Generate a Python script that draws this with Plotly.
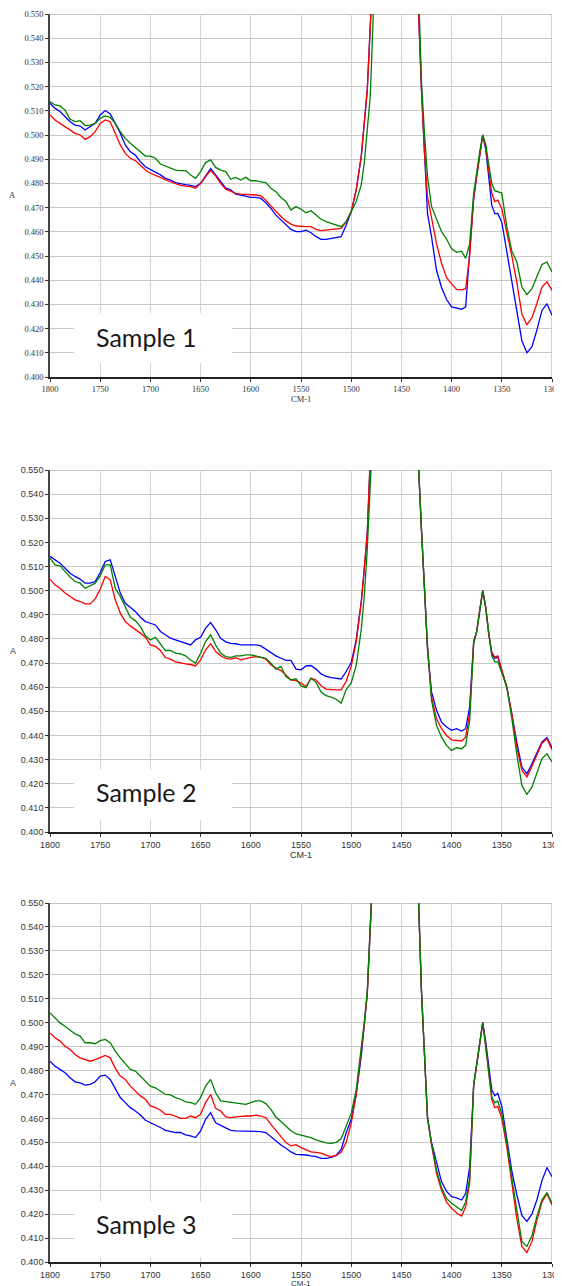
import plotly.graph_objects as go

# Wavenumber grid (cm-1), shared by all spectra
WN = [1800, 1795, 1790, 1785, 1780, 1775, 1770, 1765, 1760, 1755, 1750, 1745, 1740, 1735, 1730,
      1725, 1720, 1715, 1710, 1705, 1700, 1695, 1690, 1685, 1680, 1675, 1670, 1665, 1660, 1655,
      1650, 1645, 1640, 1635, 1630, 1625, 1620, 1615, 1610, 1605, 1600, 1595, 1590, 1585, 1580,
      1575, 1570, 1565, 1560, 1555, 1550, 1545, 1540, 1535, 1530, 1525, 1520, 1515, 1510, 1505,
      1500, 1495, 1490, 1487, 1484, 1481, 1478, 1470, 1458, 1445, 1436, 1433, 1430, 1427, 1424,
      1420, 1415, 1410, 1405, 1400, 1395, 1390, 1386, 1382, 1378, 1375, 1372, 1369, 1366, 1363,
      1360, 1357, 1354, 1350, 1345, 1340, 1335, 1330, 1325, 1320, 1315, 1310, 1305, 1300]

S1_BLUE = [0.5131, 0.5110, 0.5097, 0.5076, 0.5055, 0.5041, 0.5037, 0.5021, 0.5035, 0.5048, 0.5083, 0.5101, 0.5087, 0.5048, 0.5007,
           0.4959, 0.4931, 0.4917, 0.4890, 0.4869, 0.4858, 0.4849, 0.4835, 0.4821, 0.4814, 0.4803, 0.4798, 0.4795, 0.4792, 0.4787,
           0.4800, 0.4831, 0.4861, 0.4835, 0.4807, 0.4780, 0.4773, 0.4756, 0.4752, 0.4748, 0.4742, 0.4742, 0.4738, 0.4720, 0.4697,
           0.4669, 0.4649, 0.4628, 0.4610, 0.4601, 0.4601, 0.4607, 0.4596, 0.4580, 0.4569, 0.4569, 0.4573, 0.4577, 0.4580, 0.4628,
           0.4683, 0.4773, 0.4911, 0.5048, 0.5186, 0.545, 0.585, 0.68, 0.75, 0.72, 0.585, 0.552, 0.5186, 0.4911, 0.4676,
           0.4580, 0.4440, 0.4370, 0.4320, 0.4290, 0.4285, 0.4280, 0.4290, 0.4500, 0.4740, 0.4830, 0.4920, 0.5000, 0.4940, 0.4830,
           0.4710, 0.4675, 0.4676, 0.4640, 0.4520, 0.4400, 0.4280, 0.4150, 0.4100, 0.4125, 0.4195, 0.4275, 0.4303, 0.4255]
S1_RED = [0.5083, 0.5062, 0.5048, 0.5035, 0.5021, 0.5007, 0.5000, 0.4982, 0.4993, 0.5014, 0.5048, 0.5062, 0.5055, 0.5007, 0.4959,
          0.4924, 0.4904, 0.4894, 0.4876, 0.4855, 0.4842, 0.4835, 0.4825, 0.4814, 0.4807, 0.4798, 0.4792, 0.4789, 0.4787, 0.4780,
          0.4800, 0.4828, 0.4853, 0.4831, 0.4800, 0.4776, 0.4766, 0.4759, 0.4756, 0.4755, 0.4752, 0.4752, 0.4748, 0.4731, 0.4707,
          0.4683, 0.4663, 0.4645, 0.4632, 0.4624, 0.4621, 0.4621, 0.4621, 0.4610, 0.4605, 0.4607, 0.4607, 0.4610, 0.4614, 0.4642,
          0.4683, 0.4773, 0.4911, 0.5048, 0.5186, 0.545, 0.585, 0.68, 0.75, 0.72, 0.585, 0.552, 0.5186, 0.4924, 0.4745,
          0.4660, 0.4550, 0.4470, 0.4410, 0.4385, 0.4362, 0.4360, 0.4365, 0.4500, 0.4740, 0.4830, 0.4920, 0.5000, 0.4950, 0.4860,
          0.4760, 0.4725, 0.4731, 0.4695, 0.4600, 0.4500, 0.4390, 0.4260, 0.4215, 0.4245, 0.4305, 0.4372, 0.4393, 0.4358]
S1_GREEN = [0.5138, 0.5124, 0.5120, 0.5103, 0.5065, 0.5055, 0.5059, 0.5039, 0.5041, 0.5048, 0.5069, 0.5079, 0.5073, 0.5048, 0.5014,
            0.4986, 0.4966, 0.4949, 0.4931, 0.4913, 0.4913, 0.4904, 0.4880, 0.4872, 0.4862, 0.4855, 0.4853, 0.4853, 0.4835, 0.4821,
            0.4849, 0.4886, 0.4897, 0.4866, 0.4855, 0.4849, 0.4817, 0.4825, 0.4814, 0.4825, 0.4811, 0.4811, 0.4806, 0.4803, 0.4780,
            0.4766, 0.4742, 0.4725, 0.4690, 0.4704, 0.4693, 0.4679, 0.4687, 0.4669, 0.4652, 0.4642, 0.4635, 0.4628, 0.4621, 0.4642,
            0.4683, 0.4725, 0.4794, 0.4883, 0.5021, 0.5160, 0.5500, 0.66, 0.75, 0.72, 0.600, 0.556, 0.5220, 0.5007, 0.4828,
            0.4705, 0.4650, 0.4600, 0.4570, 0.4530, 0.4515, 0.4520, 0.4490, 0.4550, 0.4760, 0.4850, 0.4930, 0.5000, 0.4960, 0.4880,
            0.4800, 0.4770, 0.4765, 0.4760, 0.4620, 0.4520, 0.4475, 0.4372, 0.4340, 0.4365, 0.4415, 0.4465, 0.4475, 0.4434]

S2_BLUE = [0.5142, 0.5128, 0.5114, 0.5093, 0.5072, 0.5059, 0.5048, 0.5031, 0.5031, 0.5038, 0.5075, 0.5121, 0.5128, 0.5059, 0.4990,
           0.4948, 0.4932, 0.4914, 0.4890, 0.4872, 0.4865, 0.4858, 0.4831, 0.4817, 0.4803, 0.4796, 0.4789, 0.4782, 0.4775, 0.4796,
           0.4807, 0.4845, 0.4868, 0.4838, 0.4803, 0.4788, 0.4782, 0.4780, 0.4775, 0.4775, 0.4775, 0.4775, 0.4771, 0.4757, 0.4741,
           0.4730, 0.4720, 0.4711, 0.4711, 0.4675, 0.4672, 0.4688, 0.4690, 0.4675, 0.4655, 0.4645, 0.4640, 0.4638, 0.4634, 0.4665,
           0.4702, 0.4796, 0.4955, 0.5086, 0.5238, 0.555, 0.60, 0.68, 0.75, 0.72, 0.585, 0.552, 0.5252, 0.5003, 0.4755,
           0.4580, 0.4504, 0.4455, 0.4435, 0.4421, 0.4428, 0.4418, 0.4428, 0.4518, 0.4790, 0.4830, 0.4920, 0.5000, 0.4930, 0.4820,
           0.4740, 0.4720, 0.4725, 0.4670, 0.4600, 0.4490, 0.4370, 0.4269, 0.4241, 0.4283, 0.4331, 0.4373, 0.4391, 0.4349]
S2_RED = [0.5048, 0.5024, 0.5010, 0.4990, 0.4976, 0.4962, 0.4955, 0.4945, 0.4945, 0.4966, 0.5006, 0.5059, 0.5045, 0.4962, 0.4907,
          0.4872, 0.4854, 0.4840, 0.4824, 0.4807, 0.4775, 0.4769, 0.4752, 0.4723, 0.4716, 0.4705, 0.4700, 0.4697, 0.4694, 0.4688,
          0.4713, 0.4755, 0.4780, 0.4748, 0.4730, 0.4719, 0.4716, 0.4722, 0.4713, 0.4719, 0.4724, 0.4727, 0.4724, 0.4716, 0.4693,
          0.4679, 0.4669, 0.4651, 0.4630, 0.4627, 0.4617, 0.4603, 0.4637, 0.4630, 0.4606, 0.4592, 0.4589, 0.4589, 0.4589, 0.4624,
          0.4686, 0.4789, 0.4948, 0.5086, 0.5238, 0.555, 0.60, 0.68, 0.75, 0.72, 0.585, 0.552, 0.5252, 0.5003, 0.4769,
          0.4559, 0.4469, 0.4428, 0.4400, 0.4382, 0.4380, 0.4377, 0.4393, 0.4490, 0.4790, 0.4830, 0.4920, 0.5000, 0.4930, 0.4820,
          0.4745, 0.4725, 0.4730, 0.4670, 0.4600, 0.4490, 0.4350, 0.4255, 0.4228, 0.4272, 0.4324, 0.4368, 0.4386, 0.4341]
S2_GREEN = [0.5135, 0.5107, 0.5103, 0.5079, 0.5056, 0.5038, 0.5031, 0.5010, 0.5020, 0.5031, 0.5061, 0.5107, 0.5107, 0.5010, 0.4976,
            0.4934, 0.4890, 0.4876, 0.4851, 0.4813, 0.4796, 0.4807, 0.4780, 0.4752, 0.4752, 0.4741, 0.4738, 0.4730, 0.4713, 0.4700,
            0.4741, 0.4789, 0.4817, 0.4775, 0.4741, 0.4727, 0.4724, 0.4730, 0.4730, 0.4734, 0.4734, 0.4730, 0.4724, 0.4720, 0.4700,
            0.4675, 0.4686, 0.4644, 0.4630, 0.4635, 0.4605, 0.4598, 0.4637, 0.4620, 0.4580, 0.4565, 0.4559, 0.4550, 0.4534, 0.4590,
            0.4618, 0.4690, 0.4838, 0.4976, 0.5169, 0.548, 0.59, 0.68, 0.75, 0.72, 0.585, 0.552, 0.5252, 0.5010, 0.4769,
            0.4545, 0.4442, 0.4393, 0.4359, 0.4338, 0.4349, 0.4345, 0.4359, 0.4462, 0.4780, 0.4830, 0.4920, 0.5000, 0.4930, 0.4820,
            0.4730, 0.4705, 0.4705, 0.4660, 0.4600, 0.4470, 0.4320, 0.4193, 0.4156, 0.4186, 0.4241, 0.4304, 0.4324, 0.4290]

S3_BLUE = [0.4839, 0.4818, 0.4805, 0.4791, 0.4770, 0.4753, 0.4748, 0.4739, 0.4742, 0.4753, 0.4777, 0.4781, 0.4763, 0.4728, 0.4687,
           0.4666, 0.4645, 0.4631, 0.4614, 0.4592, 0.4582, 0.4575, 0.4562, 0.4550, 0.4545, 0.4541, 0.4541, 0.4531, 0.4527, 0.4520,
           0.4548, 0.4596, 0.4624, 0.4582, 0.4571, 0.4562, 0.4550, 0.4548, 0.4548, 0.4548, 0.4548, 0.4548, 0.4545, 0.4541, 0.4523,
           0.4503, 0.4489, 0.4475, 0.4460, 0.4450, 0.4450, 0.4447, 0.4443, 0.4440, 0.4433, 0.4433, 0.4437, 0.4445, 0.4470, 0.4540,
           0.4595, 0.4700, 0.4860, 0.4990, 0.5120, 0.5400, 0.5900, 0.68, 0.75, 0.72, 0.585, 0.552, 0.5131, 0.4853, 0.4603,
           0.4500, 0.4420, 0.4335, 0.4295, 0.4273, 0.4268, 0.4259, 0.4286, 0.4398, 0.4740, 0.4820, 0.4910, 0.5000, 0.4920, 0.4820,
           0.4720, 0.4695, 0.4705, 0.4650, 0.4510, 0.4380, 0.4280, 0.4195, 0.4170, 0.4200, 0.4260, 0.4340, 0.4395, 0.4356]
S3_RED = [0.4957, 0.4937, 0.4923, 0.4902, 0.4888, 0.4867, 0.4853, 0.4846, 0.4839, 0.4846, 0.4856, 0.4863, 0.4853, 0.4809, 0.4777,
          0.4763, 0.4735, 0.4714, 0.4694, 0.4680, 0.4652, 0.4645, 0.4634, 0.4617, 0.4617, 0.4609, 0.4600, 0.4600, 0.4610, 0.4603,
          0.4617, 0.4666, 0.4700, 0.4642, 0.4631, 0.4606, 0.4603, 0.4606, 0.4609, 0.4610, 0.4610, 0.4614, 0.4610, 0.4603, 0.4575,
          0.4550, 0.4527, 0.4499, 0.4485, 0.4490, 0.4478, 0.4470, 0.4460, 0.4458, 0.4455, 0.4447, 0.4440, 0.4445, 0.4458, 0.4500,
          0.4579, 0.4700, 0.4870, 0.4990, 0.5120, 0.5400, 0.5900, 0.68, 0.75, 0.72, 0.585, 0.552, 0.5131, 0.4853, 0.4603,
          0.4490, 0.4370, 0.4300, 0.4250, 0.4225, 0.4205, 0.4192, 0.4231, 0.4330, 0.4740, 0.4820, 0.4910, 0.5000, 0.4900, 0.4790,
          0.4680, 0.4645, 0.4650, 0.4600, 0.4480, 0.4330, 0.4180, 0.4065, 0.4040, 0.4085, 0.4175, 0.4250, 0.4285, 0.4238]
S3_GREEN = [0.5041, 0.5020, 0.4999, 0.4985, 0.4967, 0.4953, 0.4944, 0.4916, 0.4916, 0.4912, 0.4925, 0.4930, 0.4916, 0.4881, 0.4853,
            0.4828, 0.4805, 0.4798, 0.4777, 0.4759, 0.4735, 0.4728, 0.4714, 0.4700, 0.4698, 0.4687, 0.4680, 0.4669, 0.4666, 0.4659,
            0.4687, 0.4735, 0.4763, 0.4707, 0.4673, 0.4670, 0.4669, 0.4664, 0.4662, 0.4659, 0.4666, 0.4673, 0.4673, 0.4662, 0.4638,
            0.4606, 0.4587, 0.4568, 0.4548, 0.4535, 0.4530, 0.4525, 0.4520, 0.4510, 0.4503, 0.4498, 0.4496, 0.4500, 0.4515, 0.4565,
            0.4621, 0.4720, 0.4880, 0.5000, 0.5130, 0.5400, 0.5900, 0.68, 0.75, 0.72, 0.585, 0.552, 0.5131, 0.4853, 0.4603,
            0.4495, 0.4385, 0.4310, 0.4265, 0.4245, 0.4228, 0.4215, 0.4250, 0.4350, 0.4740, 0.4820, 0.4910, 0.5000, 0.4900, 0.4800,
            0.4690, 0.4665, 0.4673, 0.4620, 0.4500, 0.4350, 0.4210, 0.4085, 0.4065, 0.4110, 0.4190, 0.4260, 0.4290, 0.4245]

PANEL_LABELS = ["Sample 1", "Sample 2", "Sample 3"]
Y_TICKS = [0.40, 0.41, 0.42, 0.43, 0.44, 0.45, 0.46, 0.47, 0.48, 0.49, 0.50, 0.51, 0.52, 0.53, 0.54, 0.55]
X_TICKS = [1800, 1750, 1700, 1650, 1600, 1550, 1500, 1450, 1400, 1350, 1300]
X_TITLE = "CM-1"
Y_TITLE = "A"

PANELS = [
    (S1_BLUE, S1_RED, S1_GREEN),
    (S2_BLUE, S2_RED, S2_GREEN),
    (S3_BLUE, S3_RED, S3_GREEN),
]
COLORS = ["#0000ff", "#ff0000", "#008000"]
NAMES = ["Blue", "Red", "Green"]

# The page body has an 8px margin: the figure is drawn 8px in from the window's corner,
# so all window-pixel positions below are shifted by OFF.
OFF = 8
W = 562.0
H = 1286.0
# pixel layout (window coordinates) of each panel: (top, bottom)
PANEL_PX = [(14, 377), (470, 832), (903, 1262)]
X_LEFT, X_RIGHT = 50, 552


def px(xw):
    return (xw - OFF) / W


def py(yw):
    return 1 - (yw - OFF) / H


fig = go.Figure()
layout = dict(
    width=int(W), height=int(H),
    margin=dict(l=0, r=0, t=0, b=0, autoexpand=False),
    paper_bgcolor="white", plot_bgcolor="white",
    showlegend=False,
)
shapes = []
annotations = []

for i, series in enumerate(PANELS):
    idx = "" if i == 0 else str(i + 1)
    xa, ya = "x" + idx, "y" + idx
    for s, c, n in zip(series, COLORS, NAMES):
        fig.add_trace(go.Scatter(x=WN, y=s, mode="lines", name=n,
                                 line=dict(color=c, width=1.3),
                                 xaxis=xa, yaxis=ya, hoverinfo="skip"))
    top, bot = PANEL_PX[i]
    serif = (i == 0)
    tfont = dict(family="Liberation Serif" if serif else "Liberation Sans, Arial",
                 size=8.5 if serif else 9, color="#333333")
    layout["xaxis" + idx] = dict(
        domain=[px(X_LEFT), px(X_RIGHT)], anchor=ya, range=[1800, 1300],
        tickmode="array", tickvals=X_TICKS, ticktext=[str(t) for t in X_TICKS],
        showgrid=True, gridcolor="#d4d4d4", gridwidth=1.3,
        showline=True, linecolor="#222222", linewidth=1.6,
        ticks="outside", ticklen=3, tickcolor="#333333", tickfont=tfont,
        zeroline=False, fixedrange=True, automargin=False,
    )
    layout["yaxis" + idx] = dict(
        domain=[py(bot), py(top)], anchor=xa, range=[0.400, 0.550],
        tickmode="array", tickvals=Y_TICKS, ticktext=["%.3f" % t for t in Y_TICKS],
        showgrid=True, gridcolor="#c8c8c8", gridwidth=1.2,
        showline=True, linecolor="#444444", linewidth=1.6,
        ticks="outside", ticklen=3, tickcolor="#333333", tickfont=tfont,
        zeroline=False, fixedrange=True, automargin=False,
    )
    # top and right frame lines (gray, like gridlines)
    shapes.append(dict(type="line", xref=xa, yref=ya, x0=1800, x1=1300, y0=0.55, y1=0.55,
                       line=dict(color="#c4c4c4", width=2), layer="below"))
    shapes.append(dict(type="line", xref=xa, yref=ya, x0=1300, x1=1300, y0=0.40, y1=0.55,
                       line=dict(color="#c4c4c4", width=1.5), layer="below"))
    # white label box
    box_top = [313, 770, 1202][i]
    box_bot = [363, 820, 1257][i]
    shapes.append(dict(type="rect", xref="paper", yref="paper",
                       x0=px(74), x1=px(232), y0=py(box_bot), y1=py(box_top),
                       fillcolor="white", line=dict(width=0), layer="above"))
    text_y = [337, 792, 1224][i]
    annotations.append(dict(text=PANEL_LABELS[i], xref="paper", yref="paper",
                            x=px(146), y=py(text_y), showarrow=False,
                            xanchor="center", yanchor="middle",
                            font=dict(family="Lato, Open Sans, sans-serif", size=25, color="#1a1a1a")))
    # axis titles
    annotations.append(dict(text=Y_TITLE, xref="paper", yref="paper",
                            x=px(12.5), y=py((top + bot) / 2), showarrow=False,
                            xanchor="center", yanchor="middle", font=tfont))
    title_y = [399, 855, 1283][i]
    tf2 = dict(tfont)
    if i == 2:
        tf2["size"] = 8
    annotations.append(dict(text=X_TITLE, xref="paper", yref="paper",
                            x=px((X_LEFT + X_RIGHT) / 2), y=py(title_y), showarrow=False,
                            xanchor="center", yanchor="middle", font=tf2))

layout["shapes"] = shapes
layout["annotations"] = annotations
fig.update_layout(**layout)

fig.write_html("out.html", config={"displayModeBar": False})
